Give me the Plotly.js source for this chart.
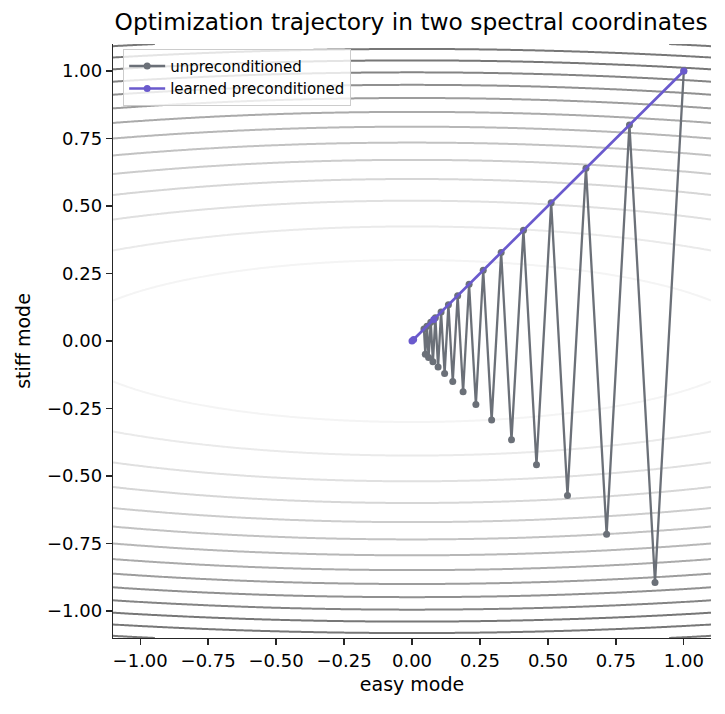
<!DOCTYPE html>
<html>
<head>
<meta charset="utf-8">
<script src="https://cdn.plot.ly/plotly-3.0.1.min.js"></script>
<style>html,body{margin:0;padding:0;background:#fff;}#chart{width:725px;height:714px;}</style>
</head>
<body>
<div id="chart"></div>
<script>
// Unpreconditioned gradient-descent iterates (easy mode, stiff mode)
const unpreX = [1.000, 0.894, 0.800, 0.716, 0.640, 0.572, 0.512, 0.458, 0.410, 0.366,
                0.328, 0.293, 0.262, 0.235, 0.210, 0.188, 0.168, 0.150, 0.134, 0.120,
                0.107, 0.096, 0.086, 0.077, 0.069, 0.061, 0.055, 0.049, 0.044];
const unpreY = [1.000, -0.894, 0.800, -0.716, 0.640, -0.572, 0.512, -0.458, 0.410, -0.366,
                0.328, -0.293, 0.262, -0.235, 0.210, -0.188, 0.168, -0.150, 0.134, -0.120,
                0.107, -0.096, 0.086, -0.077, 0.069, -0.061, 0.055, -0.049, 0.044];
// Learned preconditioned iterates
const precX = [1.000, 0.080, 0.006, 0.000];
const precY = [1.000, 0.080, 0.006, 0.000];

const seriesNames = ["unpreconditioned", "learned preconditioned"];
const seriesColors = ["#6b7078", "#6a5acd"];

// Quadratic loss landscape: condition number between the two modes
const conditionNumber = 17.9;
const gridRange = [-1.1, 1.1];
const gridN = 221;
const levelStart = 0.09, levelStep = 0.09, levelEnd = 1.30;

const gx = [], gy = [];
for (let i = 0; i < gridN; i++) {
  const v = gridRange[0] + (gridRange[1] - gridRange[0]) * i / (gridN - 1);
  gx.push(v); gy.push(v);
}
const gz = gy.map(y => gx.map(x => y * y + x * x / conditionNumber));

const font = "DejaVu Sans, sans-serif";

const traces = [
  {
    type: "contour", x: gx, y: gy, z: gz,
    contours: {coloring: "lines", start: levelStart, end: levelEnd, size: levelStep, showlabels: false},
    colorscale: [[0, "#f4f4f4"], [0.5, "#bdbdbd"], [1, "#777777"]],
    zmin: levelStart, zmax: 1.17,
    line: {width: 2, smoothing: 1},
    showscale: false, showlegend: false, hoverinfo: "skip"
  },
  {
    type: "scatter", mode: "lines+markers", name: seriesNames[0],
    x: unpreX, y: unpreY,
    line: {color: seriesColors[0], width: 2.3},
    marker: {color: seriesColors[0], size: 7}
  },
  {
    type: "scatter", mode: "lines+markers", name: seriesNames[1],
    x: precX, y: precY,
    line: {color: seriesColors[1], width: 2.7},
    marker: {color: seriesColors[1], size: 7}
  }
];

const tickVals = [-1.0, -0.75, -0.5, -0.25, 0.0, 0.25, 0.5, 0.75, 1.0];
const tickText = ["\u22121.00", "\u22120.75", "\u22120.50", "\u22120.25", "0.00", "0.25", "0.50", "0.75", "1.00"];

const axisCommon = {
  range: [-1.1, 1.1], showgrid: false, zeroline: false,
  showline: true, linecolor: "#262626", linewidth: 1.3,
  ticks: "outside", ticklen: 6, tickwidth: 1.3, tickcolor: "#262626",
  tickvals: tickVals, ticktext: tickText,
  tickfont: {family: font, size: 18, color: "#000"}
};

const layout = {
  width: 725, height: 714,
  margin: {l: 113, r: 14, t: 44, b: 76},
  paper_bgcolor: "#fff", plot_bgcolor: "#fff",
  hovermode: false,
  title: {text: "Optimization trajectory in two spectral coordinates",
          font: {family: font, size: 23.3, color: "#000"},
          x: 0.567, xanchor: "center", y: 0.969, yanchor: "middle"},
  xaxis: Object.assign({}, axisCommon, {title: {text: "easy mode", font: {family: font, size: 19, color: "#000"}, standoff: 7}}),
  yaxis: Object.assign({}, axisCommon, {title: {text: "stiff mode", font: {family: font, size: 19, color: "#000"}, standoff: 11}}),
  legend: {x: 0.017, y: 0.992, xanchor: "left", yanchor: "top",
           bgcolor: "rgba(255,255,255,0.8)", bordercolor: "#cccccc", borderwidth: 1,
           itemwidth: 36,
           font: {family: font, size: 15, color: "#000"}, tracegroupgap: 0}
};

Plotly.newPlot("chart", traces, layout, {displayModeBar: false, staticPlot: true});
</script>
</body>
</html>
